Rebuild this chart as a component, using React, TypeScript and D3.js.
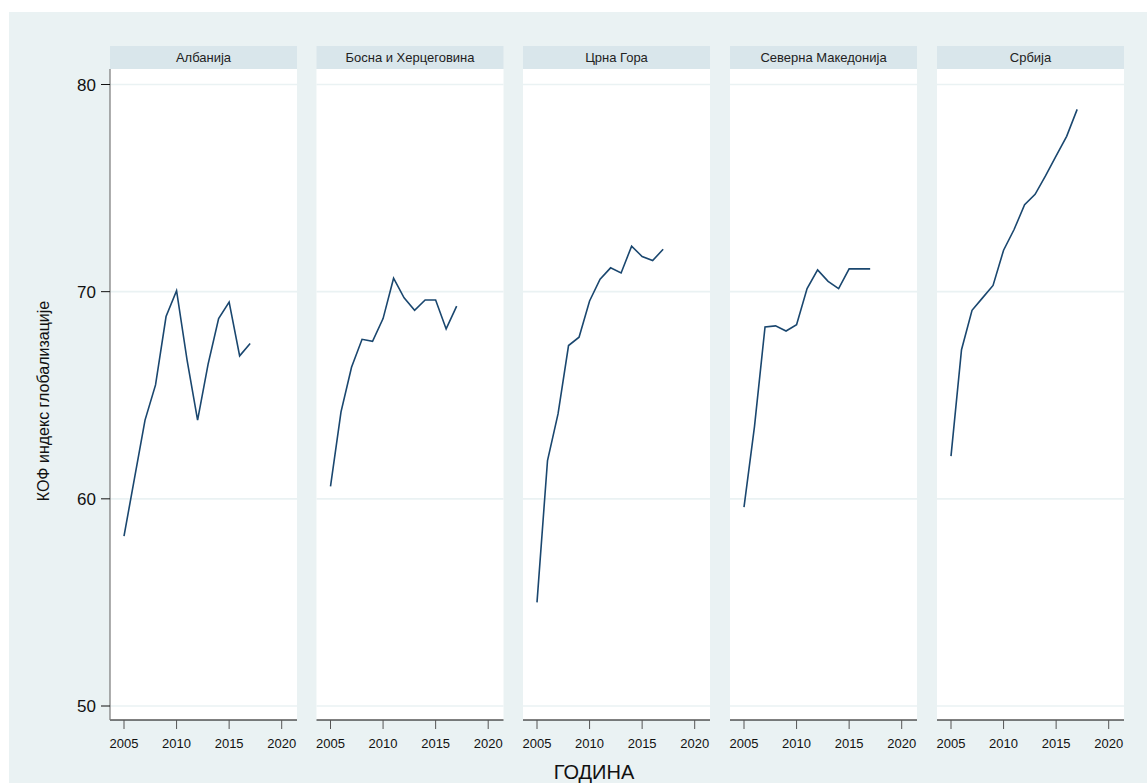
import React from "react";
import * as d3 from "d3";

const countries = ["Албанија", "Босна и Херцеговина", "Црна Гора", "Северна Македонија", "Србија"];
const years = [2005, 2006, 2007, 2008, 2009, 2010, 2011, 2012, 2013, 2014, 2015, 2016, 2017];
const albania = [58.2, 61.0, 63.8, 65.5, 68.8, 70.05, 66.7, 63.8, 66.5, 68.7, 69.5, 66.9, 67.5];
const bosnia = [60.6, 64.2, 66.35, 67.7, 67.6, 68.7, 70.65, 69.7, 69.1, 69.6, 69.6, 68.2, 69.3];
const montenegro = [55.0, 61.85, 64.1, 67.4, 67.8, 69.55, 70.6, 71.15, 70.9, 72.2, 71.7, 71.5, 72.05];
const macedonia = [59.6, 63.5, 68.3, 68.35, 68.1, 68.4, 70.15, 71.05, 70.5, 70.15, 71.1, 71.1, 71.1];
const serbia = [62.06, 67.2, 69.1, 69.7, 70.3, 72.0, 73.0, 74.2, 74.7, 75.6, 76.55, 77.5, 78.8];
const seriesList = [albania, bosnia, montenegro, macedonia, serbia];
const yTicks = [50, 60, 70, 80];
const xTicks = [2005, 2010, 2015, 2020];
const yTitle = "КОФ индекс глобализације";
const xTitle = "ГОДИНА";

const W = 1147;
const H = 783;
const panelLefts = [110, 316.5, 523, 730, 937];
const panelW = 187;
const plotTop = 69;
const plotBottom = 720;
const headerTop = 46;
const font = "Arial, 'Liberation Sans', sans-serif";

export default function App() {
  const y = d3.scaleLinear().domain([50, 80]).range([706, 84.5]);
  const x0 = d3.scaleLinear().domain([2005, 2020]).range([14, 171.7]);
  const line = d3
    .line<[number, number]>()
    .x((d) => x0(d[0]))
    .y((d) => y(d[1]));

  return (
    <svg
      width={W}
      height={H}
      style={{ position: "absolute", left: 0, top: 0, fontFamily: font }}
    >
      <rect x={0} y={0} width={W} height={H} fill="#ffffff" />
      <rect x={9} y={12} width={W - 9} height={H - 12} fill="#eaf2f3" />
      {countries.map((c, i) => {
        const left = panelLefts[i];
        const data = years.map((yr, k) => [yr, seriesList[i][k]] as [number, number]);
        return (
          <g key={c} transform={`translate(${left},0)`}>
            <rect x={0} y={headerTop} width={panelW} height={plotTop - headerTop} fill="#d9e6eb" />
            <text
              x={panelW / 2}
              y={(headerTop + plotTop) / 2 + 4.5}
              textAnchor="middle"
              fontSize={13}
              fill="#222"
            >
              {c}
            </text>
            <rect x={0} y={plotTop} width={panelW} height={plotBottom - plotTop} fill="#ffffff" />
            {yTicks.map((t) => (
              <line
                key={t}
                x1={0}
                x2={panelW}
                y1={y(t)}
                y2={y(t)}
                stroke="#eaf2f3"
                strokeWidth={1.6}
              />
            ))}
            <path d={line(data) || ""} fill="none" stroke="#1a476f" strokeWidth={1.6} strokeLinejoin="miter" />
            <line x1={0} x2={panelW} y1={plotBottom} y2={plotBottom} stroke="#000" strokeWidth={1} />
            {xTicks.map((t) => (
              <g key={t}>
                <line x1={x0(t)} x2={x0(t)} y1={plotBottom} y2={plotBottom + 9} stroke="#555" strokeWidth={1} />
                <text x={x0(t)} y={plotBottom + 28} textAnchor="middle" fontSize={13} fill="#111">
                  {t}
                </text>
              </g>
            ))}
            {i === 0 && (
              <g>
                <line x1={0} x2={0} y1={plotTop} y2={plotBottom} stroke="#777" strokeWidth={1.2} />
                {yTicks.map((t) => (
                  <g key={t}>
                    <line x1={-9} x2={0} y1={y(t)} y2={y(t)} stroke="#111" strokeWidth={1} />
                    <text x={-14} y={y(t) + 6} textAnchor="end" fontSize={17} fill="#111">
                      {t}
                    </text>
                  </g>
                ))}
              </g>
            )}
          </g>
        );
      })}
      <text
        transform={`translate(49,401) rotate(-90)`}
        textAnchor="middle"
        fontSize={16}
        fill="#111"
      >
        {yTitle}
      </text>
      <text x={594} y={779} textAnchor="middle" fontSize={20} fill="#111">
        {xTitle}
      </text>
    </svg>
  );
}
